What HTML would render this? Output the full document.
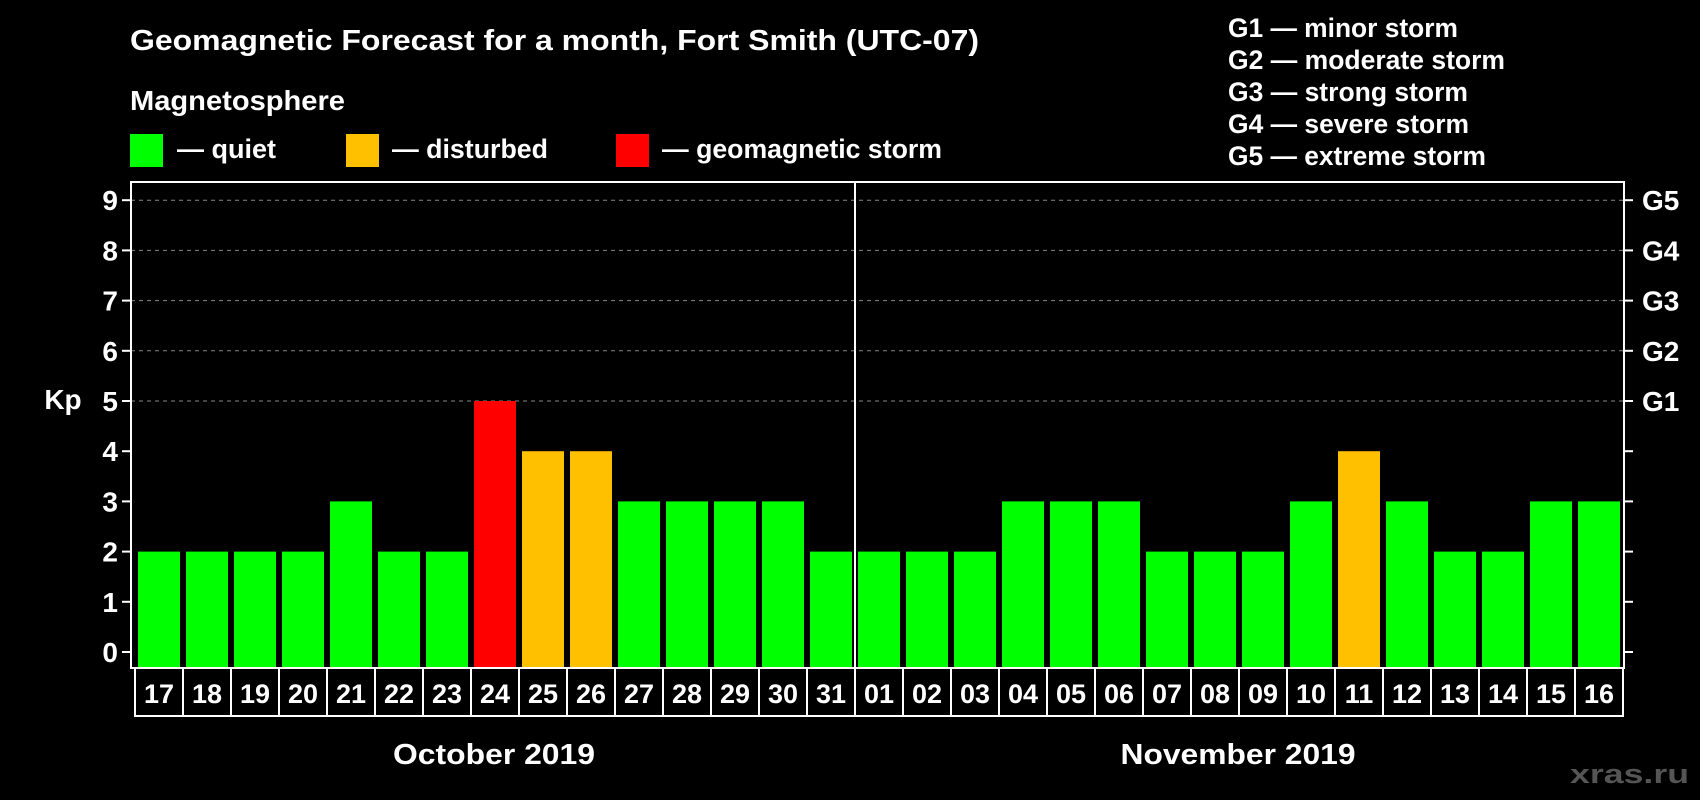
<!DOCTYPE html>
<html><head><meta charset="utf-8"><style>
html,body{margin:0;padding:0;background:#000;}
svg{display:block;}
text{font-family:"Liberation Sans",sans-serif;font-weight:bold;fill:#fff;}
</style></head><body>
<svg id="chart" width="1700" height="800" viewBox="0 0 1700 800">
<text x="130" y="50" font-size="29" textLength="849" lengthAdjust="spacingAndGlyphs">Geomagnetic Forecast for a month, Fort Smith (UTC-07)</text>
<text x="130" y="110" font-size="28" textLength="215" lengthAdjust="spacingAndGlyphs">Magnetosphere</text>
<g><rect x="130" y="134" width="33" height="33" fill="#00ff00"/><text x="177" y="158" font-size="27" textLength="99" lengthAdjust="spacingAndGlyphs">— quiet</text></g>
<g><rect x="346" y="134" width="33" height="33" fill="#ffc000"/><text x="392" y="158" font-size="27" textLength="156" lengthAdjust="spacingAndGlyphs">— disturbed</text></g>
<g><rect x="616" y="134" width="33" height="33" fill="#ff0000"/><text x="662" y="158" font-size="27" textLength="280" lengthAdjust="spacingAndGlyphs">— geomagnetic storm</text></g>
<g font-size="26.5">
<text x="1228" y="37" textLength="230" lengthAdjust="spacingAndGlyphs">G1 — minor storm</text>
<text x="1228" y="69" textLength="277" lengthAdjust="spacingAndGlyphs">G2 — moderate storm</text>
<text x="1228" y="101" textLength="240" lengthAdjust="spacingAndGlyphs">G3 — strong storm</text>
<text x="1228" y="133" textLength="241" lengthAdjust="spacingAndGlyphs">G4 — severe storm</text>
<text x="1228" y="165" textLength="258" lengthAdjust="spacingAndGlyphs">G5 — extreme storm</text>
</g>
<text x="63" y="409" font-size="28" text-anchor="middle">Kp</text>
<g id="grid"></g><g id="bars"></g><g id="axes"></g>
<text x="494" y="764" font-size="29" text-anchor="middle" textLength="202" lengthAdjust="spacingAndGlyphs">October 2019</text>
<text x="1238" y="764" font-size="29" text-anchor="middle" textLength="235" lengthAdjust="spacingAndGlyphs">November 2019</text>
<text x="1689" y="783" font-size="27" text-anchor="end" textLength="119" lengthAdjust="spacingAndGlyphs" style="fill:#555">xras.ru</text>
</svg>
<script>
const days = ["17","18","19","20","21","22","23","24","25","26","27","28","29","30","31","01","02","03","04","05","06","07","08","09","10","11","12","13","14","15","16"];
const kpValues = [2,2,2,2,3,2,2,5,4,4,3,3,3,3,2,2,2,2,3,3,3,2,2,2,3,4,3,2,2,3,3];
const yTicks = [0,1,2,3,4,5,6,7,8,9];
const gLabels = ["","","","","","G1","G2","G3","G4","G5"];
const NS="http://www.w3.org/2000/svg";
const L=131,R=1624,T=182,B=668,slot=48,x0=135;
function y(v){return 652-v*50.2;}
function x(i){return x0+i*slot;}
function mk(tag,attrs,parent){const e=document.createElementNS(NS,tag);for(const k in attrs)e.setAttribute(k,attrs[k]);parent.appendChild(e);return e;}
const grid=document.getElementById('grid'),bars=document.getElementById('bars'),axes=document.getElementById('axes');
yTicks.forEach((t,i)=>{
  if(t>=5){const g=mk('line',{x1:L,x2:R,y1:y(t),y2:y(t),stroke:'#888','stroke-dasharray':'4,4'},grid);
  
  }
  const tl=mk('line',{x1:L-9,x2:L,y1:y(t),y2:y(t),stroke:'#fff','stroke-width':2},axes);
  
  
  const tr=mk('line',{x1:R,x2:R+9,y1:y(t),y2:y(t),stroke:'#fff','stroke-width':2},axes);
  
  
  const lb=mk('text',{x:L-13,y:y(t)+10,'font-size':28,'text-anchor':'end'},axes);lb.textContent=t;
  
  
  if(gLabels[i]){const gl=mk('text',{x:R+18,y:y(t)+10,'font-size':28},axes);gl.textContent=gLabels[i];
  
  }
});
kpValues.forEach((v,i)=>{
  const c=v>=5?'#ff0000':(v>=4?'#ffc000':'#00ff00');
  const b=mk('rect',{x:x(i)+3,y:y(v),width:42,height:B-y(v),fill:c},bars);
  
  
  const bx=mk('rect',{x:x(i),y:B,width:slot,height:48,fill:'none',stroke:'#fff','stroke-width':2},axes);
  
  
  const dl=mk('text',{x:x(i)+slot/2,y:B+35,'font-size':27,'text-anchor':'middle'},axes);dl.textContent=days[i];
  
  
});
const fr=mk('rect',{x:L,y:T,width:R-L,height:B-T,fill:'none',stroke:'#fff','stroke-width':2},axes);


const sep=mk('line',{x1:x(15),x2:x(15),y1:T,y2:B,stroke:'#fff','stroke-width':2},axes);


</script>
</body></html>
